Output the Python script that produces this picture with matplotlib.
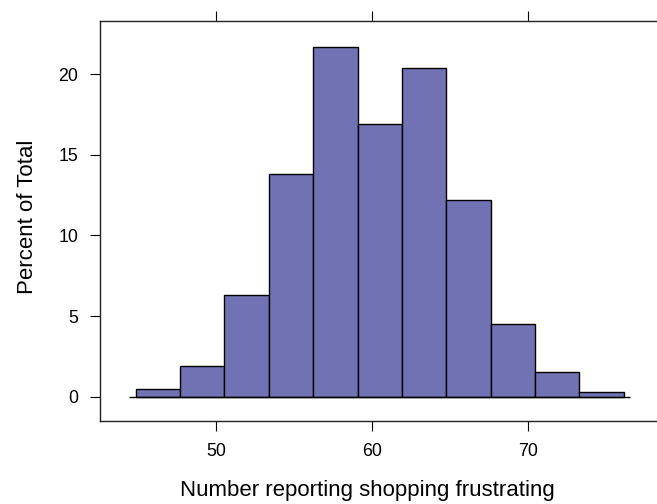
import matplotlib
matplotlib.use("Agg")
import matplotlib.pyplot as plt
import numpy as np

# histogram breaks and the percent of total in each bin
bin_edges = [44.84, 47.69, 50.53, 53.38, 56.22, 59.07, 61.91, 64.76,
             67.60, 70.45, 73.29, 76.14]
percent = [0.5, 1.9, 6.3, 13.8, 21.7, 16.9, 20.4, 12.2, 4.5, 1.5, 0.3]
x_ticks = [50, 60, 70]
y_ticks = [0, 5, 10, 15, 20]

matplotlib.rcParams['font.family'] = ['Liberation Sans', 'DejaVu Sans']

fig = plt.figure(figsize=(6.57, 5.04), dpi=100)
ax = fig.add_axes([0.1522, 0.1647, 0.851, 0.7936])

edges = np.array(bin_edges)
ax.bar(edges[:-1], percent, width=np.diff(edges), align='edge',
       color='#7072B4', edgecolor='black', linewidth=1.0, zorder=2)

# reference line at zero, a little wider than the bins
pad = 0.41
ax.hlines(0, edges[0] - pad, edges[-1] + pad, color='black', linewidth=1.0, zorder=3)

ax.set_xlim(42.56, 78.4)
ax.set_ylim(-1.51, 23.3)

for s in ax.spines.values():
    s.set_linewidth(1.0)
    s.set_color('#222222')

ax.set_xticks(x_ticks)
ax.set_yticks(y_ticks)
ax.tick_params(axis='both', direction='out', length=7.5, width=0.8,
               labelsize=12.8, pad=8, colors='black')
ax.tick_params(axis='x', top=True, labeltop=False)

ax.set_xlabel('Number reporting shopping frustrating', fontsize=16)
ax.set_ylabel('Percent of Total', fontsize=16)
ax.xaxis.set_label_coords(0.478, -0.147)
ax.yaxis.set_label_coords(-0.11, 0.51)

fig.savefig('out.png', dpi=100)
